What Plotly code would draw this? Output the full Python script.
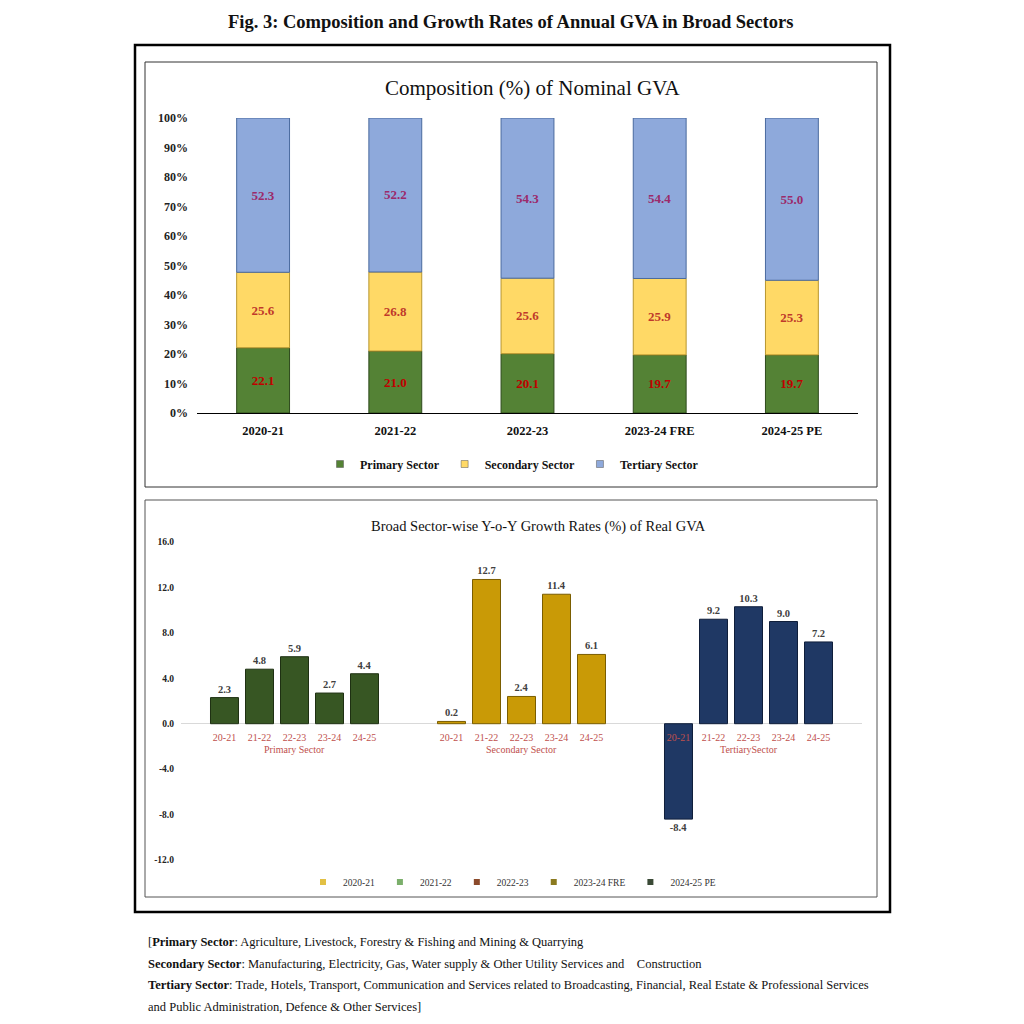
import plotly.graph_objects as go

# ---------------- data ----------------
years_top = ["2020-21", "2021-22", "2022-23", "2023-24 FRE", "2024-25 PE"]
primary_share = [22.1, 21.0, 20.1, 19.7, 19.7]
secondary_share = [25.6, 26.8, 25.6, 25.9, 25.3]
tertiary_share = [52.3, 52.2, 54.3, 54.4, 55.0]
top_names = ["Primary Sector", "Secondary Sector", "Tertiary Sector"]

sectors = ["Primary Sector", "Secondary Sector", "Tertiary Sector"]
sector_labels = ["Primary Sector", "Secondary Sector", "TertiarySector"]
growth_years = ["20-21", "21-22", "22-23", "23-24", "24-25"]
growth_legend = ["2020-21", "2021-22", "2022-23", "2023-24 FRE", "2024-25 PE"]
# growth[year_index] = [primary, secondary, tertiary]
growth = [
    [2.3, 0.2, -8.4],
    [4.8, 12.7, 9.2],
    [5.9, 2.4, 10.3],
    [2.7, 11.4, 9.0],
    [4.4, 6.1, 7.2],
]
pct_ticks = list(range(0, 101, 10))
growth_ticks = [-12, -8, -4, 0, 4, 8, 12, 16]

# ---------------- styles ----------------
W = H = 1024
SERIF = "Liberation Serif, Times New Roman, serif"
top_colors = ["#548235", "#FFD966", "#8EA9DB"]
top_lines = ["#2E4A1C", "#B8962E", "#4A6A9E"]
top_label_colors = ["#C00000", "#C0392B", "#9C2A6A"]
bot_colors = ["#375623", "#C99A06", "#1F3864"]
bot_lines = ["#1E3012", "#7A5D00", "#0F1E3A"]
legend2_colors = ["#E2C044", "#7BAF6B", "#8B4A2B", "#8B7A1F", "#3A4A36"]


def px(x):
    return x / W


def py(y):
    return 1 - y / H


fig = go.Figure()

# ---------------- top chart: stacked composition ----------------
shares = [primary_share, secondary_share, tertiary_share]
base = [0.0] * len(years_top)
for name, vals, c, lc, tc in zip(top_names, shares, top_colors, top_lines, top_label_colors):
    fig.add_trace(go.Bar(
        x=years_top, y=vals, base=list(base), name=name, showlegend=False,
        offsetgroup="top", width=0.4, offset=-0.2,
        marker=dict(color=c, line=dict(color=lc, width=1)),
        text=[f"{v:.1f}" for v in vals], textposition="inside",
        insidetextanchor="middle", textangle=0, constraintext="none",
        textfont=dict(family=SERIF, size=13, color=tc, weight="bold"),
        xaxis="x", yaxis="y",
    ))
    base = [b + v for b, v in zip(base, vals)]

for name, c in zip(top_names, top_colors):
    fig.add_trace(go.Scatter(
        x=[None], y=[None], mode="markers", name=name,
        marker=dict(symbol="square", size=7, color=c, line=dict(color="#555555", width=0.5)),
        xaxis="x", yaxis="y", legend="legend",
    ))

# ---------------- bottom chart: grouped growth ----------------
for i, yr in enumerate(growth_years):
    vals = growth[i]
    fig.add_trace(go.Bar(
        x=sectors, y=vals, name=growth_legend[i], showlegend=False,
        offsetgroup=str(i),
        marker=dict(color=bot_colors, line=dict(color=bot_lines, width=1)),
        text=[f"{v:.1f}" for v in vals], textposition="outside",
        textangle=0, constraintext="none", cliponaxis=False,
        textfont=dict(family=SERIF, size=10.5, color="#404040", weight="bold"),
        xaxis="x2", yaxis="y2",
    ))

# year labels under each bar (transparent bars sharing the same slot)
LABEL_DEPTH = 2.4
for i, yr in enumerate(growth_years):
    fig.add_trace(go.Bar(
        x=sectors, y=[-LABEL_DEPTH] * len(sectors), showlegend=False,
        offsetgroup=str(i), hoverinfo="skip",
        marker=dict(color="rgba(0,0,0,0)", line=dict(width=0)),
        text=[yr] * len(sectors), textposition="inside",
        insidetextanchor="middle", textangle=0, constraintext="none",
        textfont=dict(family=SERIF, size=10, color="#C0504D"),
        xaxis="x2", yaxis="y2",
    ))

# legend-only markers for the bottom chart
for name, c in zip(growth_legend, legend2_colors):
    fig.add_trace(go.Scatter(
        x=[None], y=[None], mode="markers", name=name,
        marker=dict(symbol="square", size=6, color=c),
        xaxis="x2", yaxis="y2", legend="legend2",
    ))

# sector labels under each group
annotations = []
for s, lab in zip(sectors, sector_labels):
    annotations.append(dict(
        x=s, y=0, xref="x2", yref="y2", yshift=-26, showarrow=False,
        text=lab, font=dict(family=SERIF, size=10, color="#C0504D"),
        xanchor="center", yanchor="middle",
    ))

# titles and footnotes
annotations += [
    dict(x=px(510), y=py(22), xref="paper", yref="paper", showarrow=False,
         xanchor="center", yanchor="middle",
         text="<b>Fig. 3: Composition and Growth Rates of Annual GVA in Broad Sectors</b>",
         font=dict(family=SERIF, size=18.5, color="#111111")),
    dict(x=px(533), y=py(88), xref="paper", yref="paper", showarrow=False,
         xanchor="center", yanchor="middle",
         text="Composition (%) of Nominal GVA",
         font=dict(family=SERIF, size=21, color="#111111")),
    dict(x=px(538), y=py(526), xref="paper", yref="paper", showarrow=False,
         xanchor="center", yanchor="middle",
         text="Broad Sector-wise Y-o-Y Growth Rates (%) of Real GVA",
         font=dict(family=SERIF, size=14.5, color="#111111")),
]
foot = [
    "[<b>Primary Sector</b>: Agriculture, Livestock, Forestry &amp; Fishing and Mining &amp; Quarrying",
    "<b>Secondary Sector</b>: Manufacturing, Electricity, Gas, Water supply &amp; Other Utility Services and    Construction",
    "<b>Tertiary Sector</b>: Trade, Hotels, Transport, Communication and Services related to Broadcasting, Financial, Real Estate &amp; Professional Services",
    "and Public Administration, Defence &amp; Other Services]",
]
for k, t in enumerate(foot):
    annotations.append(dict(
        x=px(146), y=py(942 + 21.5 * k), xref="paper", yref="paper",
        xanchor="left", yanchor="middle", showarrow=False, text=t,
        font=dict(family=SERIF, size=12.5, color="#111111"),
    ))

shapes = [
    dict(type="rect", xref="paper", yref="paper", x0=px(135), x1=px(890),
         y0=py(912), y1=py(45), line=dict(color="#000000", width=2.5)),
    dict(type="rect", xref="paper", yref="paper", x0=px(145), x1=px(877),
         y0=py(487), y1=py(62), line=dict(color="#333333", width=1)),
    dict(type="rect", xref="paper", yref="paper", x0=px(145), x1=px(877),
         y0=py(897), y1=py(500), line=dict(color="#555555", width=1)),
]

fig.update_layout(
    width=W, height=H, margin=dict(l=0, r=0, t=0, b=0, autoexpand=False),
    paper_bgcolor="white", plot_bgcolor="rgba(0,0,0,0)",
    barmode="group", bargap=0.229, bargroupgap=0.2,
    font=dict(family=SERIF, color="#111111"),
    xaxis=dict(domain=[px(197), px(858)], anchor="y", showgrid=False, automargin=False,
               showline=True, linecolor="#000000", linewidth=1.2,
               ticks="", tickfont=dict(family=SERIF, size=12.5, color="#111111", weight="bold"),
               ticklabelstandoff=6),
    yaxis=dict(domain=[py(413), py(118)], anchor="x", range=[0, 100], automargin=False,
               tickvals=pct_ticks, ticktext=[f"{v}%" for v in pct_ticks],
               showgrid=False, zeroline=False, showline=False, ticks="",
               tickfont=dict(family=SERIF, size=12, color="#222222", weight="bold"),
               ticklabelstandoff=8),
    xaxis2=dict(domain=[px(181), px(862)], anchor="y2", showgrid=False, automargin=False,
                showline=False, showticklabels=False, ticks=""),
    yaxis2=dict(domain=[py(860), py(542)], anchor="x2", range=[-12, 16], automargin=False,
                tickvals=growth_ticks, ticktext=[f"{v:.1f}" for v in growth_ticks],
                showgrid=False, zeroline=True, zerolinecolor="#D9D9D9",
                zerolinewidth=1, showline=False, ticks="",
                tickfont=dict(family=SERIF, size=9.5, color="#222222", weight="bold"),
                ticklabelstandoff=6),
    legend=dict(orientation="h", x=px(512), xanchor="center", y=py(464),
                yanchor="middle", font=dict(family=SERIF, size=12, weight="bold"),
                itemwidth=30, traceorder="normal", bgcolor="rgba(0,0,0,0)"),
    legend2=dict(orientation="h", x=px(512), xanchor="center", y=py(882),
                 yanchor="middle", font=dict(family=SERIF, size=9.5, color="#333333"),
                 itemwidth=30, bgcolor="rgba(0,0,0,0)"),
    annotations=annotations, shapes=shapes,
)

fig.write_html(
    "out.html",
    config={"displayModeBar": False},
    post_script="document.body.style.margin='0px';document.body.style.overflow='hidden';",
)
